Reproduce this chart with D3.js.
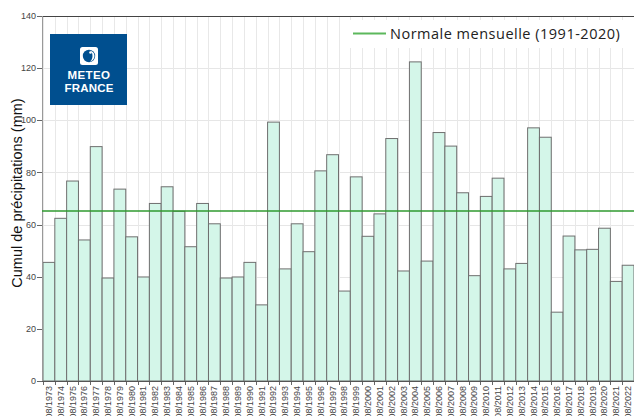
<!DOCTYPE html>
<html><head><meta charset="utf-8">
<script src="https://cdn.jsdelivr.net/npm/d3@7"></script>
<style>html,body{margin:0;padding:0;background:#fff;overflow:hidden}</style>
</head><body>
<svg id="c" width="634" height="416"></svg>
<script>
const years = d3.range(1973, 2023).map(String);
const labels = years.map(y => "08/" + y);
const values = [45.5,62.4,76.7,54.1,89.9,39.5,73.6,55.3,39.9,68.1,
                74.5,65.1,51.5,68.1,60.3,39.5,39.9,45.5,29.2,99.3,
                43.0,60.3,49.6,80.6,86.8,34.5,78.3,55.5,64.1,93.0,
                42.2,122.4,46.0,95.3,90.1,72.2,40.4,70.8,77.8,43.0,
                45.1,97.1,93.5,26.4,55.6,50.3,50.5,58.6,38.2,44.4];
const normale = 65.2;
const yTicks = [0,20,40,60,80,100,120,140];
const legendLabel = "Normale mensuelle (1991-2020)";
const yTitle = "Cumul de précipitations (mm)";

const svg = d3.select("#c");
const L = 43, R = 634, T = 16, B = 381;
const x = d3.scaleBand().domain(labels).range([L, R]).padding(0);
const y = d3.scaleLinear().domain([0, 140]).range([B, T]);

// grids
const g = svg.append("g");
g.selectAll(".hg").data(yTicks.slice(1, -1)).join("line")
  .attr("x1", L).attr("x2", R).attr("y1", d => Math.round(y(d)) + 0.5).attr("y2", d => Math.round(y(d)) + 0.5)
  .attr("stroke", "#e6e6e6").attr("stroke-width", 1);
g.selectAll(".vg").data(labels).join("line")
  .attr("x1", d => Math.round(x(d)) + 0.5).attr("x2", d => Math.round(x(d)) + 0.5)
  .attr("y1", T).attr("y2", B)
  .attr("stroke", "#e8e8e8").attr("stroke-width", 1);

// bars
svg.append("g").selectAll("rect").data(values).join("rect")
  .attr("x", (d, i) => x(labels[i]))
  .attr("width", x.bandwidth())
  .attr("y", d => y(d))
  .attr("height", d => B - y(d))
  .attr("fill", "#d4f6e9")
  .attr("stroke", "#6f6f6f").attr("stroke-width", 1);

// x ticks below axis
svg.append("g").selectAll("line").data(labels).join("line")
  .attr("x1", d => Math.round(x(d)) + 0.5).attr("x2", d => Math.round(x(d)) + 0.5)
  .attr("y1", B).attr("y2", B + 4).attr("stroke", "#666");

// x labels
svg.append("g").selectAll("text").data(labels).join("text")
  .attr("transform", d => `translate(${x(d) + x.bandwidth()/2 + 3},${B + 5}) rotate(-90)`)
  .attr("text-anchor", "end")
  .attr("font-family", "Liberation Sans, Arial, sans-serif")
  .attr("font-size", "9px").attr("fill", "#444")
  .text(d => d);

// top border and axis lines
svg.append("line").attr("x1", 42).attr("x2", R).attr("y1", T + 0.5).attr("y2", T + 0.5).attr("stroke", "#444");
svg.append("line").attr("x1", 42).attr("x2", R).attr("y1", B + 0.5).attr("y2", B + 0.5).attr("stroke", "#555");
svg.append("line").attr("x1", 42.5).attr("x2", 42.5).attr("y1", T).attr("y2", B).attr("stroke", "#999");

// y axis ticks + labels
const ya = svg.append("g");
ya.selectAll("line").data(yTicks).join("line")
  .attr("x1", 37).attr("x2", 42).attr("y1", d => Math.round(y(d)) + 0.5).attr("y2", d => Math.round(y(d)) + 0.5)
  .attr("stroke", "#666");
ya.selectAll("text").data(yTicks).join("text")
  .attr("x", 36).attr("y", d => y(d)).attr("dy", "0.35em")
  .attr("text-anchor", "end")
  .attr("font-family", "Liberation Sans, Arial, sans-serif")
  .attr("font-size", "9px").attr("fill", "#444")
  .text(d => d);

// y title
svg.append("text")
  .attr("transform", `translate(22,193) rotate(-90)`)
  .attr("text-anchor", "middle")
  .attr("font-family", "Liberation Sans, Arial, sans-serif")
  .attr("font-size", "14.5px").attr("fill", "#111")
  .text(yTitle);

// normal line
svg.append("line").attr("x1", 42).attr("x2", R)
  .attr("y1", y(normale)).attr("y2", y(normale))
  .attr("stroke", "#2f9a2f").attr("stroke-width", 1.6);

// legend
svg.append("rect").attr("x", 345).attr("y", 20).attr("width", R - 345).attr("height", 28).attr("fill", "#fff");
svg.append("line").attr("x1", 353).attr("x2", 386).attr("y1", 33.5).attr("y2", 33.5)
  .attr("stroke", "#5cb85c").attr("stroke-width", 2);
svg.append("text").attr("x", 390).attr("y", 38.5)
  .attr("font-family", "Open Sans, sans-serif").attr("font-size", "14.5px").attr("fill", "#222")
  .attr("letter-spacing", "0.5px")
  .text(legendLabel);

// logo
const logo = svg.append("g");
logo.append("rect").attr("x", 50).attr("y", 34).attr("width", 77).attr("height", 71).attr("fill", "#004f8f");
logo.append("rect").attr("x", 80).attr("y", 47).attr("width", 18).attr("height", 18).attr("rx", 2.5).attr("fill", "#fff");
logo.append("circle").attr("cx", 89).attr("cy", 56).attr("r", 6.2).attr("fill", "#004f8f");
logo.append("path").attr("d", "M89,50.5 A5.5,5.5 0 0 1 89,61.5 A3.5,5.5 0 0 0 89,50.5 Z").attr("fill", "#fff");
logo.append("circle").attr("cx", 90.5).attr("cy", 52.5).attr("r", 1.3).attr("fill", "#fff");
logo.append("text").attr("x", 89).attr("y", 79).attr("text-anchor", "middle")
  .attr("font-family", "Liberation Sans, Arial, sans-serif").attr("font-weight", "bold")
  .attr("font-size", "11.5px").attr("fill", "#fff").attr("letter-spacing", "0.4px").text("METEO");
logo.append("text").attr("x", 89).attr("y", 92).attr("text-anchor", "middle")
  .attr("font-family", "Liberation Sans, Arial, sans-serif").attr("font-weight", "bold")
  .attr("font-size", "11.5px").attr("fill", "#fff").attr("letter-spacing", "0.2px").text("FRANCE");
</script>
</body></html>
